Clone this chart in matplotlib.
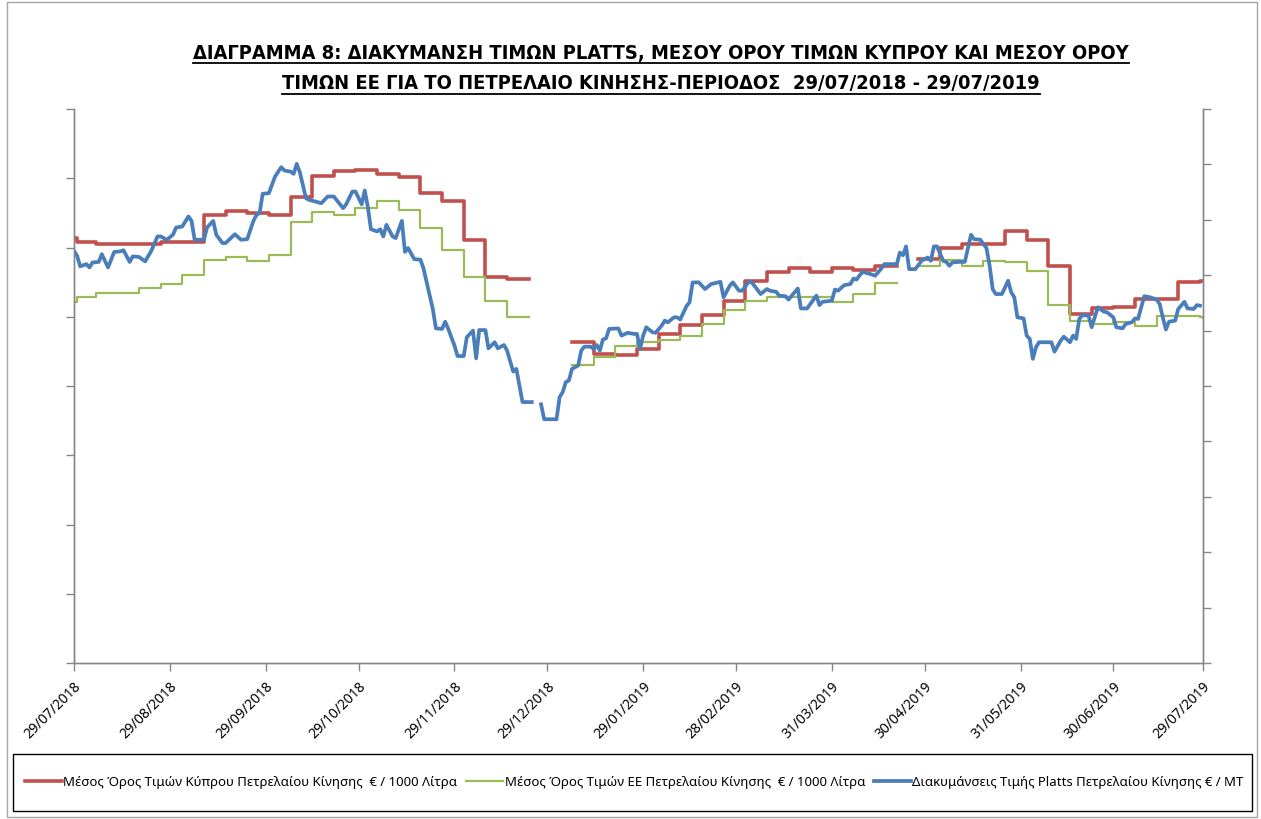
import numpy as np
import pandas as pd
import matplotlib
matplotlib.use("Agg")
import matplotlib.pyplot as plt
from matplotlib.patches import Rectangle
from matplotlib.lines import Line2D

nan = np.nan

# weekly averages (Cyprus / EU), € per 1000 litres; nan = no data (gap)
step_dates = ['2018-07-29', '2018-07-30', '2018-08-05', '2018-08-12', '2018-08-19', '2018-08-26',
              '2018-09-02', '2018-09-09', '2018-09-16', '2018-09-23', '2018-09-30', '2018-10-07',
              '2018-10-14', '2018-10-21', '2018-10-28', '2018-11-04', '2018-11-11', '2018-11-18',
              '2018-11-25', '2018-12-02', '2018-12-09', '2018-12-16', '2018-12-23',
              '2019-01-06', '2019-01-13', '2019-01-20', '2019-01-27', '2019-02-03', '2019-02-10',
              '2019-02-17', '2019-02-24', '2019-03-03', '2019-03-10', '2019-03-17', '2019-03-24',
              '2019-03-31', '2019-04-07', '2019-04-14', '2019-04-21',
              '2019-04-28', '2019-05-05', '2019-05-12', '2019-05-19', '2019-05-26', '2019-06-02',
              '2019-06-09', '2019-06-16', '2019-06-23', '2019-06-30', '2019-07-07', '2019-07-14',
              '2019-07-21', '2019-07-28', '2019-07-29']
cyprus_avg = [1227, 1215, 1209, 1209, 1209, 1215, 1215, 1295, 1305, 1300, 1295, 1345,
              1407, 1422, 1425, 1412, 1403, 1356, 1333, 1222, 1116, 1109, nan,
              928, 892, 890, 907, 950, 976, 1006, 1046, 1102, 1128, 1141, 1130,
              1141, 1136, 1146, nan,
              1167, 1198, 1210, 1210, 1248, 1222, 1147, 1008, 1025, 1029, 1051, 1051,
              1101, 1103, 1103]
eu_avg = [1043, 1056, 1068, 1068, 1082, 1094, 1121, 1164, 1172, 1160, 1178, 1273,
          1302, 1294, 1313, 1333, 1308, 1256, 1194, 1116, 1045, 1000, nan,
          862, 883, 916, 928, 934, 945, 979, 1020, 1045, 1058, 1056, 1056,
          1042, 1066, 1097, nan,
          1147, 1165, 1147, 1160, 1157, 1131, 1034, 989, 979, 984, 974, 1001,
          1001, 998, 995]

# Platts quotes, € per MT, by day since 29/07/2018
platts_day = [0, 1, 2, 4, 5, 6, 8, 9, 10, 11, 13, 15, 16, 18, 19, 21, 23, 25, 27, 28,
              30, 32, 33, 35, 37, 38, 39, 42, 43, 45, 46, 48, 49, 52, 54, 56, 58, 59, 60, 61,
              63, 65, 67, 68, 70, 71, 72, 73, 75, 76, 78, 80, 82, 84, 87, 88, 90, 91, 93, 94,
              95, 96, 98, 99, 100, 101, 103, 104, 106, 107, 108, 110, 112, 113, 115, 116, 117, 119, 120, 121,
              123, 124, 126, 127, 129, 130, 131, 133, 134, 136, 137, 139, 140, 142, 143, 145, 148, 149, 151, 152,
              156, 157, 158, 159, 160, 161, 163, 164, 165, 167, 168, 169, 170, 171, 172, 173, 176, 177, 179, 181,
              182, 183, 184, 185, 187, 188, 190, 191, 192, 194, 195, 196, 198, 199, 200, 202, 204, 206, 209, 210,
              212, 213, 215, 216, 218, 219, 222, 224, 225, 227, 228, 230, 231, 234, 235, 237, 240, 241, 242, 245,
              246, 247, 249, 251, 252, 253, 254, 255, 257, 259, 261, 262, 266, 267, 268, 269, 270, 272, 274, 276,
              277, 278, 279, 281, 282, 283, 284, 286, 288, 290, 291, 293, 295, 296, 297, 298, 300, 302, 303, 304,
              305, 307, 308, 309, 310, 311, 312, 316, 317, 319, 320, 322, 323, 324, 325, 326, 328, 329, 331, 333,
              334, 336, 337, 339, 340, 342, 343, 344, 346, 348, 350, 351, 352, 353, 354, 356, 357, 359, 360, 362,
              363, 364]
platts_val = [744, 735, 716, 720, 714, 723, 724, 738, 726, 714, 742, 743, 745, 724, 734, 733, 725, 744, 770, 770,
              764, 773, 786, 788, 806, 798, 764, 764, 786, 798, 773, 758, 758, 774, 764, 765, 798, 809, 812, 847,
              848, 878, 895, 889, 887, 883, 901, 886, 839, 836, 833, 830, 842, 842, 821, 828, 851, 851, 828, 853,
              823, 783, 779, 783, 770, 791, 770, 767, 798, 742, 749, 729, 728, 712, 663, 639, 604, 603, 616, 603,
              573, 554, 554, 588, 600, 550, 601, 601, 568, 579, 568, 574, 564, 526, 531, 471, 471, nan, 467, 440,
              440, 480, 489, 507, 510, 531, 537, 564, 571, 571, 567, 574, 564, 584, 586, 603, 604, 591, 596, 594,
              594, 567, 591, 606, 597, 596, 609, 618, 615, 624, 624, 620, 644, 651, 687, 687, 675, 684, 688, 660,
              681, 687, 672, 672, 687, 688, 666, 675, 672, 670, 663, 662, 656, 676, 640, 640, 663, 646, 652, 654,
              674, 672, 682, 684, 694, 692, 700, 706, 703, 699, 712, 720, 720, 741, 736, 752, 711, 711, 726, 732,
              726, 752, 752, 726, 724, 717, 723, 724, 724, 773, 765, 764, 749, 718, 675, 666, 666, 690, 669, 660,
              624, 622, 591, 585, 549, 570, 579, 579, 562, 582, 589, 579, 591, 585, 621, 628, 627, 606, 642, 634,
              633, 624, 606, 604, 612, 615, 622, 621, 662, 660, 656, 648, 624, 602, 616, 618, 639, 652, 640, 639,
              646, 645]

tick_dates = ['2018-07-29', '2018-08-29', '2018-09-29', '2018-10-29', '2018-11-29', '2018-12-29',
              '2019-01-29', '2019-02-28', '2019-03-31', '2019-04-30', '2019-05-31', '2019-06-30',
              '2019-07-29']

title_lines = ["ΔΙΑΓΡΑΜΜΑ 8: ΔΙΑΚΥΜΑΝΣΗ ΤΙΜΩΝ PLATTS, ΜΕΣΟΥ ΟΡΟΥ ΤΙΜΩΝ ΚΥΠΡΟΥ ΚΑΙ ΜΕΣΟΥ ΟΡΟΥ",
               "ΤΙΜΩΝ ΕΕ ΓΙΑ ΤΟ ΠΕΤΡΕΛΑΙΟ ΚΙΝΗΣΗΣ-ΠΕΡΙΟΔΟΣ  29/07/2018 - 29/07/2019"]
labels = ["Μέσος Όρος Τιμών Κύπρου Πετρελαίου Κίνησης  € / 1000 Λίτρα",
          "Μέσος Όρος Τιμών ΕΕ Πετρελαίου Κίνησης  € / 1000 Λίτρα",
          "Διακυμάνσεις Τιμής Platts Πετρελαίου Κίνησης € / MT"]

RED = '#C0504D'
GREEN = '#9BBB59'
BLUE = '#4A7EBB'
AXC = '#868686'

plt.rcParams['font.family'] = ['Noto Sans', 'DejaVu Sans']

start = pd.Timestamp('2018-07-29')
sdates = pd.to_datetime(step_dates)
pdates = start + pd.to_timedelta(platts_day, unit='D')

fig = plt.figure(figsize=(12.61, 8.2), dpi=100)
ax = fig.add_axes([74 / 1261, 1 - 664 / 820, 1129 / 1261, 554 / 820])
ax2 = ax.twinx()

ax.plot(sdates, cyprus_avg, color=RED, lw=2.6, drawstyle='steps-post', solid_joinstyle='round')
ax.plot(sdates, eu_avg, color=GREEN, lw=1.6, drawstyle='steps-post')
ax2.plot(pdates, platts_val, color=BLUE, lw=2.7, solid_joinstyle='round')

ax.set_xlim(start, pd.Timestamp('2019-07-29'))
ax.set_ylim(0, 1600)
ax.set_yticks(np.arange(0, 1601, 200))
ax2.set_ylim(0, 1000)
ax2.set_yticks(np.arange(0, 1001, 100))
ax.set_yticklabels([])
ax2.set_yticklabels([])

ax.set_xticks(pd.to_datetime(tick_dates))
ax.set_xticklabels([pd.Timestamp(d).strftime('%d/%m/%Y') for d in tick_dates],
                   rotation=45, ha='right', rotation_mode='anchor', fontsize=10)

for a in (ax, ax2):
    a.spines['top'].set_visible(False)
    for s in ('left', 'right', 'bottom'):
        a.spines[s].set_color(AXC)
        a.spines[s].set_linewidth(1.0)
    a.tick_params(axis='both', direction='out', color=AXC, length=6, width=1.0)
ax.tick_params(axis='x', pad=5)

# title (bold, underlined)
tops = [0.935, 0.898]
for line, y in zip(title_lines, tops):
    t = fig.text(0.524, y, line, ha='center', va='center', fontsize=14.4, fontweight='bold',
                 family=['DejaVu Sans'], fontstretch='condensed')
    fig.canvas.draw()
    bb = t.get_window_extent().transformed(fig.transFigure.inverted())
    fig.add_artist(Line2D([bb.x0, bb.x1], [bb.y0 - 0.002, bb.y0 - 0.002], color='black', lw=1.3,
                          transform=fig.transFigure))

# legend box
fig.add_artist(Rectangle((13 / 1261, 1 - 812 / 820), 1239 / 1261, 57 / 820, transform=fig.transFigure,
                         fill=False, edgecolor='black', lw=1.0))
handles = [Line2D([], [], color=RED, lw=2.6), Line2D([], [], color=GREEN, lw=1.6),
           Line2D([], [], color=BLUE, lw=2.7)]
fig.legend(handles, labels, loc='center', bbox_to_anchor=(0.503, 1 - 783 / 820), ncol=3, frameon=False,
           fontsize=9.5, handlelength=2.8, handletextpad=0.1, columnspacing=0.7)

# chart area border
fig.add_artist(Rectangle((7 / 1261, 2 / 820), 1250 / 1261, 815 / 820, transform=fig.transFigure,
                         fill=False, edgecolor='#A6A6A6', lw=1.0))

fig.savefig('out.png', dpi=100)
